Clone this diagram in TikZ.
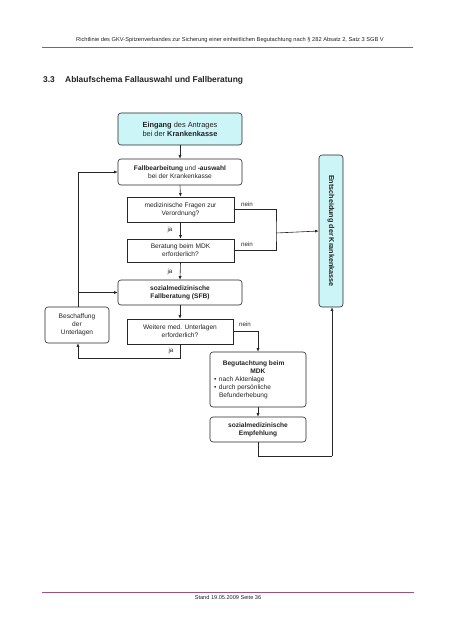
\documentclass[tikz,border=0pt]{standalone}
\usepackage{fontspec}
\setmainfont{Liberation Sans}
\usetikzlibrary{arrows.meta}
\definecolor{boxcyan}{HTML}{CCF5F7}
\definecolor{rulepink}{HTML}{A0507A}
\definecolor{txt}{HTML}{222222}
\tikzset{
  every node/.style={text=txt},
  rbox/.style={draw=black!85, line width=0.6pt, rounded corners=3pt, align=center, inner sep=1pt, font=\fontsize{6.6}{8}\selectfont},
  qbox/.style={draw=black!85, line width=0.6pt, align=center, inner sep=1pt, font=\fontsize{6.6}{8}\selectfont},
  conn/.style={line width=0.6pt, draw=black!85},
  arr/.style={conn, -{Latex[length=3.5pt,width=3pt]}},
  lbl/.style={font=\fontsize{6.2}{7}\selectfont, inner sep=0pt}
}
\begin{document}
\begin{tikzpicture}[x=1pt,y=-1pt]
\useasboundingbox (0,0) rectangle (453,640);
% header
\node[font=\fontsize{5.7}{6.5}\selectfont] (head) at (230,40) {Richtlinie des GKV-Spitzenverbandes zur Sicherung einer einheitlichen Begutachtung nach § 282 Absatz 2, Satz 3 SGB V};
\draw[rulepink, line width=0.7pt] (42,47) -- (413,47);
% title
\node[font=\bfseries\fontsize{8.4}{10}\selectfont, anchor=west, inner sep=0pt] (num) at (43,80) {3.3};
\node[font=\bfseries\fontsize{8.4}{10}\selectfont, anchor=west, inner sep=0pt] (title) at (65,80) {Ablaufschema Fallauswahl und Fallberatung};
% footer
\draw[rulepink, line width=0.7pt] (42,592) -- (414,592);
\node[font=\fontsize{5.6}{6.5}\selectfont] (foot) at (228,597.5) {Stand 19.05.2009 Seite 36};

% boxes
\node[rbox, fill=boxcyan, minimum width=124, minimum height=32, font=\fontsize{7.4}{9}\selectfont] (eing) at (180,129) {\textbf{Eingang} des Antrages\\bei der \textbf{Krankenkasse}};
\node[rbox, minimum width=124, minimum height=26] (fall) at (180,172) {\textbf{Fallbearbeitung} und \textbf{-auswahl}\\bei der Krankenkasse};
\node[qbox, minimum width=107, minimum height=25] (med) at (180.5,209.5) {medizinische Fragen zur\\Verordnung?};
\node[qbox, minimum width=107, minimum height=23] (ber) at (180.5,250.5) {Beratung beim MDK\\erforderlich?};
\node[rbox, minimum width=124, minimum height=25] (sfb) at (180,292.5) {\textbf{sozialmedizinische}\\\textbf{Fallberatung (SFB)}};
\node[rbox, minimum width=64, minimum height=36] (besch) at (77,325) {Beschaffung\\der\\Unterlagen};
\node[qbox, minimum width=106, minimum height=25] (weit) at (180,331.5) {Weitere med. Unterlagen\\erforderlich?};
\node[rbox, minimum width=96, minimum height=55, align=left] (begut) at (258,379.5) {%
  \parbox{88pt}{\centering\textbf{Begutachtung beim}\newline\textbf{MDK}\par\raggedright
  \hangindent=5pt\hangafter=1 \makebox[5pt][l]{\textbullet}nach Aktenlage\par
  \hangindent=5pt\hangafter=1 \makebox[5pt][l]{\textbullet}durch persönliche\newline Befunderhebung\par}};
\node[rbox, minimum width=96, minimum height=25] (empf) at (258,429.5) {\textbf{sozialmedizinische}\\\textbf{Empfehlung}};
\node[rbox, fill=boxcyan, minimum width=24, minimum height=152] (ents) at (331,231) {};
\node[rotate=-90, font=\bfseries\fontsize{7.2}{9}\selectfont, inner sep=0pt] (entstxt) at (ents.center) {Entscheidung der Krankenkasse};

% coordinates
\coordinate (nj) at (276,233);
\coordinate (jb) at (180,358);
\coordinate (jl) at (78,358);
\coordinate (bt) at (78,307);
\coordinate (ef) at (258,456);
\coordinate (er) at (332,456);

% connectors
\draw[arr] (eing.south) -- (fall.north);
\draw[arr] (fall.south) -- (med.north);
\draw[arr] (med.south) -- (ber.north);
\draw[arr] (ber.south) -- (sfb.north);
\draw[arr] (sfb.south) -- (weit.north);
\draw[conn] (med.east) -| (nj) |- (ber.east);
\draw[arr] (nj) -- (ents.west);
\draw[conn] (weit.south -| jb) -- (jb) -- (jl);
\draw[arr] (jl) -- (besch.south -| jl);
\draw[conn] (besch.north -| bt) -- (78,172);
\draw[arr] (78,172) -- (fall.west);
\draw[arr] (78,292.5) -- (sfb.west);
\draw[arr] (weit.east) -| (begut.north);
\draw[arr] (begut.south) -- (empf.north);
\draw[conn] (empf.south) -- (ef) -- (er);
\draw[arr] (er) -- (ents.south -| er);

% labels
\node[lbl] (l1) at (247,204) {nein};
\node[lbl] (l2) at (247,244) {nein};
\node[lbl] (l3) at (170,230) {ja};
\node[lbl] (l4) at (170,272) {ja};
\node[lbl] (l5) at (245,324) {nein};
\node[lbl] (l6) at (171,351) {ja};
\end{tikzpicture}
\end{document}
